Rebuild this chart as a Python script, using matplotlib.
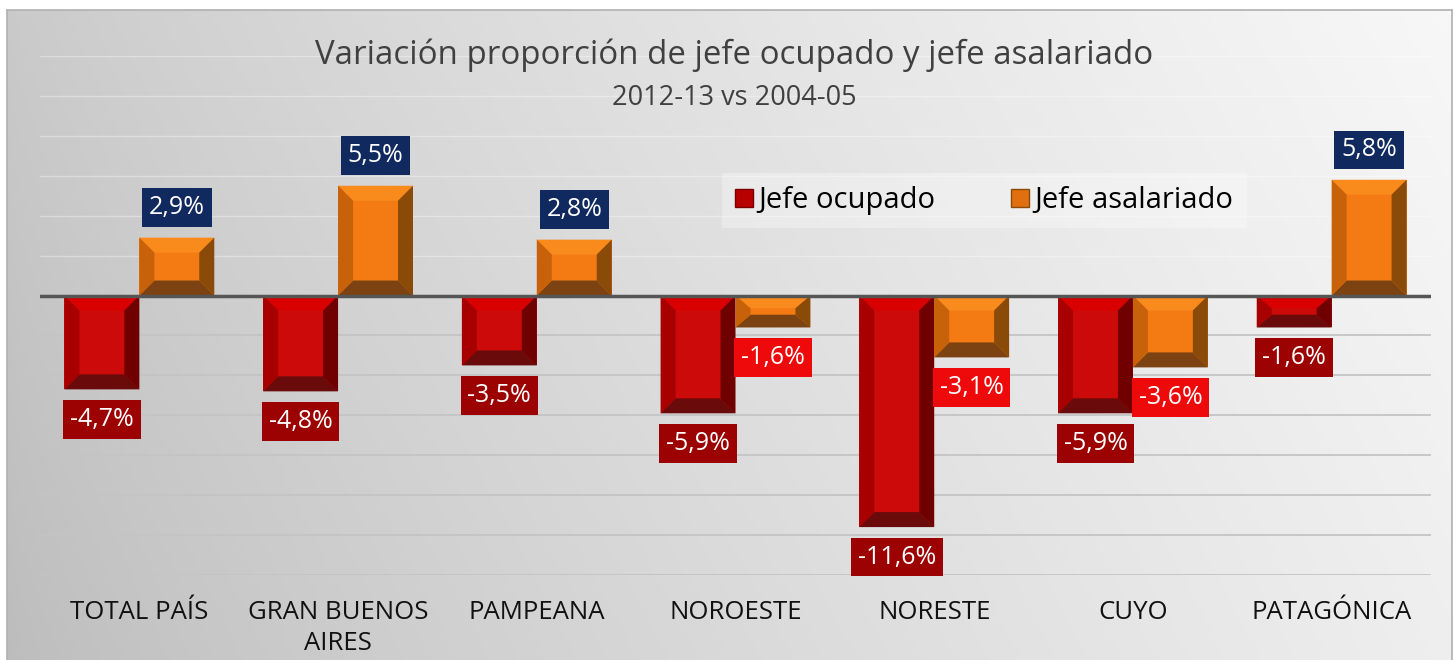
import numpy as np
import matplotlib
matplotlib.use("Agg")
import matplotlib.pyplot as plt
from matplotlib.patches import Polygon, Patch

plt.rcParams['font.family'] = ['Open Sans', 'DejaVu Sans']

# Data
regiones = ["TOTAL PAÍS", "GRAN BUENOS\nAIRES", "PAMPEANA", "NOROESTE",
            "NORESTE", "CUYO", "PATAGÓNICA"]
jefe_ocupado = [-4.7, -4.8, -3.5, -5.9, -11.6, -5.9, -1.6]
jefe_asalariado = [2.9, 5.5, 2.8, -1.6, -3.1, -3.6, 5.8]

titulo = "Variación proporción de jefe ocupado y jefe asalariado"
subtitulo = "2012-13 vs 2004-05"

W, H = 1454, 660
fig = plt.figure(figsize=(W / 100, H / 100), dpi=100)
fig.patch.set_facecolor("white")

# background gradient panel
bg = fig.add_axes([7 / W, 0, (W - 9) / W, 1 - 10 / H], zorder=-10)
gx = np.linspace(0, 1, 300)
gy = np.linspace(0, 1, 150)
GX, GY = np.meshgrid(gx, gy)
shade = 0.79 + 0.18 * GX ** 0.8 - 0.05 * GY * (1 - GX * 0.3)
bg.imshow(np.dstack([shade] * 3), aspect="auto", extent=[0, 1, 0, 1], origin="upper")
bg.set_xticks([])
bg.set_yticks([])
for s in bg.spines.values():
    s.set_color("#b0b0b0")
    s.set_linewidth(1.2)
bg.spines["bottom"].set_visible(False)

ax = fig.add_axes([40 / W, 85 / H, 1391 / W, 519 / H])
ax.set_facecolor("none")
ax.set_ylim(-14, 12)
x = np.arange(len(regiones))
ax.set_xlim(-0.5, len(regiones) - 0.5)

bw = 0.377
red_bars = ax.bar(x - bw / 2, jefe_ocupado, bw, color="#cc0a0a", zorder=3)
org_bars = ax.bar(x + bw / 2, jefe_asalariado, bw, color="#f47b14", zorder=3)

# pixel scale for bevel
px_x = (1391 / len(regiones))
px_y = 519 / 26.0
bev = 15


def bevel(bar, cols):
    x0 = bar.get_x()
    x1 = x0 + bar.get_width()
    y0 = min(bar.get_y(), bar.get_y() + bar.get_height())
    y1 = max(bar.get_y(), bar.get_y() + bar.get_height())
    bx = bev / px_x
    by = min(bev / px_y, (y1 - y0) * 0.4)
    top, left, right, bottom = cols
    polys = [
        ([(x0, y1), (x1, y1), (x1 - bx, y1 - by), (x0 + bx, y1 - by)], top),
        ([(x0, y0), (x1, y0), (x1 - bx, y0 + by), (x0 + bx, y0 + by)], bottom),
        ([(x0, y0), (x0, y1), (x0 + bx, y1 - by), (x0 + bx, y0 + by)], left),
        ([(x1, y0), (x1, y1), (x1 - bx, y1 - by), (x1 - bx, y0 + by)], right),
    ]
    for pts, c in polys:
        ax.add_patch(Polygon(pts, closed=True, facecolor=c, edgecolor="none", zorder=4))


for b in red_bars:
    bevel(b, ("#d80000", "#a80000", "#700000", "#6a0a0a"))
for b in org_bars:
    bevel(b, ("#f98a1c", "#c8620a", "#8a4a08", "#7c4212"))

# grid and zero line
for yv in np.arange(-14, 12.1, 2):
    if yv == 0:
        continue
    if yv < 0:
        ax.axhline(yv, color="#c4c4c4", lw=1.3, zorder=1)
    else:
        ax.axhline(yv, color="#ffffff", lw=1.0, alpha=0.35, zorder=1)
ax.axhline(0, color="#555555", lw=2.5, zorder=5)


def etiqueta(bar, val, neg_color):
    cx = bar.get_x() + bar.get_width() / 2
    if val >= 0:
        off, fc = 30, "#10295e"
    else:
        off, fc = -30, neg_color
    ax.annotate(f"{val:.1f}%".replace(".", ","), (cx, val), xytext=(0, off),
                textcoords="offset pixels", ha="center", va="center",
                color="white", fontsize=18, zorder=6,
                bbox=dict(boxstyle="square,pad=0.27", fc=fc, ec="none"))


for b, v in zip(red_bars, jefe_ocupado):
    etiqueta(b, v, "#9c0202")
for b, v in zip(org_bars, jefe_asalariado):
    etiqueta(b, v, "#ee0a0a")

ax.set_xticks(x)
ax.set_xticklabels(regiones, fontsize=18.5, color="#111111", linespacing=1.3)
ax.tick_params(axis="x", length=0, pad=18)
ax.set_yticks([])
for s in ax.spines.values():
    s.set_visible(False)

handles = [Patch(facecolor="#b80000", edgecolor="#7a0000"),
           Patch(facecolor="#e0700f", edgecolor="#8a4a08")]
leg = ax.legend(handles, ["Jefe ocupado", "Jefe asalariado"], ncol=2,
                loc="center", bbox_to_anchor=(0.679, 0.721), fontsize=21,
                handlelength=0.6, handleheight=0.6, handletextpad=0.2,
                columnspacing=2.6, frameon=True, fancybox=False,
                borderpad=0.45, borderaxespad=0)
leg.get_frame().set_facecolor("white")
leg.get_frame().set_alpha(0.3)
leg.get_frame().set_edgecolor("none")
leg.set_zorder(7)

fig.text(0.505, 0.917, titulo, ha="center", va="center", fontsize=23.8, color="#404040")
fig.text(0.505, 0.852, subtitulo, ha="center", va="center", fontsize=19.5, color="#404040")

fig.savefig("out.png", dpi=100)
